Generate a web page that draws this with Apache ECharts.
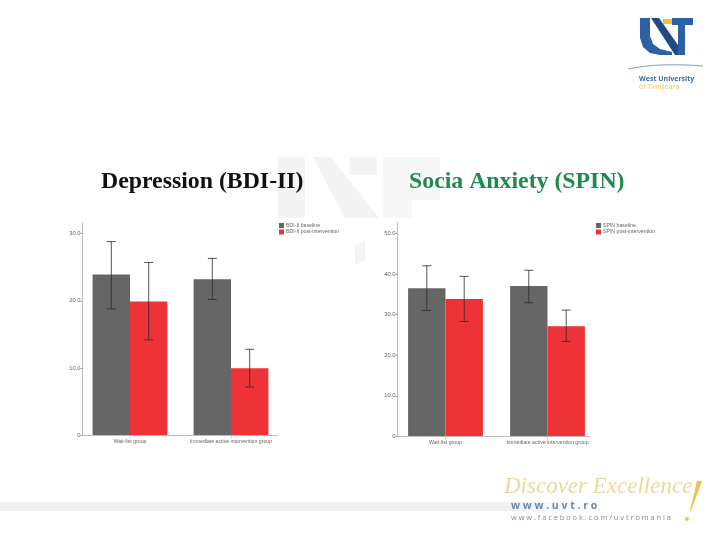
<!DOCTYPE html>
<html>
<head>
<meta charset="UTF-8" />
<title>Depression and Social Anxiety</title>
<style>
html, body { margin: 0; padding: 0; background: #fff; }
#chartBox { width: 720px; height: 540px; }
</style>
</head>
<body>
<div id="chartBox"></div>
<script src="https://cdn.jsdelivr.net/npm/echarts@6/dist/echarts.min.js"></script>
<script>
var categories = ['Wait-list group', 'Immediate active intervention group'];
var categoriesRight = ['Wait-list group', 'Immediate active intervention group'];

// BDI-II
var bdiBaseline = [23.9, 23.2];
var bdiPost = [19.9, 10.0];
var bdiBaselineLow = [18.8, 20.2];
var bdiBaselineHigh = [28.8, 26.3];
var bdiPostLow = [14.2, 7.2];
var bdiPostHigh = [25.7, 12.8];
var bdiTicks = [0, 10, 20, 30];

// SPIN
var spinBaseline = [36.5, 37.0];
var spinPost = [33.8, 27.1];
var spinBaselineLow = [31.0, 32.9];
var spinBaselineHigh = [42.0, 40.9];
var spinPostLow = [28.3, 23.4];
var spinPostHigh = [39.4, 31.1];
var spinTicks = [0, 10, 20, 30, 40, 50];

var GREY = '#666666', RED = '#ee3338', AXIS = '#bdbdbd', TXT = '#666666';
var BAR_W = 37.4;

var myChart = echarts.init(document.getElementById('chartBox'));

// error bars, one set per bar series; side -1 is the left bar of the pair
function errorSeries(gridIdx, low, high, side) {
	return {
		type: 'custom',
		xAxisIndex: gridIdx,
		yAxisIndex: gridIdx,
		silent: true,
		z: 5,
		data: low.map(function(v, i) { return [i, v, high[i]]; }),
		encode: { x: 0, y: [1, 2] },
		renderItem: function(params, api) {
			var lo = api.coord([api.value(0), api.value(1)]);
			var hi = api.coord([api.value(0), api.value(2)]);
			var x = lo[0] + side * BAR_W / 2;
			var st = { stroke: '#2b2b2b', lineWidth: 1, opacity: 0.8 };
			return {
				type: 'group',
				children: [
					{ type: 'line', shape: { x1: x, y1: lo[1], x2: x, y2: hi[1] }, style: st },
					{ type: 'line', shape: { x1: x - 4.5, y1: lo[1], x2: x + 4.5, y2: lo[1] }, style: st },
					{ type: 'line', shape: { x1: x - 4.5, y1: hi[1], x2: x + 4.5, y2: hi[1] }, style: st }
				]
			};
		}
	};
}

function barSeries(gridIdx, name, values, color) {
	return {
		name: name,
		type: 'bar',
		xAxisIndex: gridIdx,
		yAxisIndex: gridIdx,
		data: values,
		barWidth: BAR_W,
		barGap: 0,
		itemStyle: { color: color },
		animation: false
	};
}

function xAxisOf(gridIdx, cats) {
	return {
		type: 'category',
		gridIndex: gridIdx,
		data: cats,
		axisLine: { show: false },
		axisTick: { show: true, alignWithLabel: true, length: 2, lineStyle: { color: AXIS } },
		axisLabel: { color: TXT, fontSize: 5.2, margin: 4, fontFamily: 'Liberation Sans', interval: 0 }
	};
}

function yAxisOf(gridIdx, max, ticks) {
	return {
		type: 'value',
		gridIndex: gridIdx,
		min: 0,
		max: max,
		offset: -3,
		splitLine: { show: false },
		axisLine: { show: true, lineStyle: { color: AXIS } },
		axisTick: { show: true, length: 2, customValues: ticks, lineStyle: { color: '#999' } },
		axisLabel: {
			color: TXT, fontSize: 5.8, margin: 2, fontFamily: 'Liberation Sans',
			customValues: ticks,
			formatter: function(v) { return v === 0 ? '0' : v.toFixed(1); }
		}
	};
}

function legendOf(left, top, names) {
	return {
		left: left, top: top, orient: 'vertical',
		icon: 'rect',
		itemWidth: 5, itemHeight: 5, itemGap: 1.5,
		padding: 0, selectedMode: false,
		data: names,
		textStyle: { color: TXT, fontSize: 5.2, padding: [0, 0, 0, -3], fontFamily: 'Liberation Sans' }
	};
}

var palePoly = '#f5f4f5';
var backdrop = [
	// watermark behind the titles
	{ type: 'rect', shape: { x: 278, y: 157, width: 27, height: 61 }, style: { fill: palePoly } },
	{ type: 'polygon', shape: { points: [[313, 157], [331, 157], [379, 218], [345, 218]] }, style: { fill: palePoly } },
	{ type: 'rect', shape: { x: 349, y: 157, width: 28, height: 18 }, style: { fill: palePoly } },
	{ type: 'polygon', shape: { points: [[383, 157], [440, 157], [440, 200], [412, 200], [412, 218], [383, 218]] }, style: { fill: '#f8f7f8' } },
	{ type: 'polygon', shape: { points: [[355, 245], [365, 240], [365, 260], [355, 265]] }, style: { fill: palePoly } },
	// band at the bottom, fading out behind the web address
	{ type: 'rect', shape: { x: 0, y: 502, width: 600, height: 9 }, style: {
		fill: new echarts.graphic.LinearGradient(0, 0, 1, 0, [
			{ offset: 0, color: '#f0f0f3' }, { offset: 0.85, color: '#f0f0f3' }, { offset: 1, color: '#ffffff' }
		])
	} },
	// logo
	{ type: 'polygon', shape: { points: [[640, 18], [650, 18], [650, 36], [653, 44], [660, 49], [672, 52], [672, 55], [660, 55], [650, 53], [643, 47], [640, 38]] }, style: { fill: '#2c62a5' } },
	{ type: 'polygon', shape: { points: [[651, 18], [659, 18], [685, 55], [675, 55]] }, style: { fill: '#1f4a86' } },
	{ type: 'rect', shape: { x: 663, y: 19, width: 9, height: 5 }, style: { fill: '#f2c230' } },
	{ type: 'rect', shape: { x: 672, y: 18, width: 21, height: 7 }, style: { fill: '#2c62a5' } },
	{ type: 'rect', shape: { x: 678, y: 25, width: 7, height: 30 }, style: { fill: '#2c62a5' } },
	{ type: 'bezierCurve', shape: { x1: 628, y1: 69, cpx1: 650, cpy1: 64, cpx2: 680, cpy2: 64, x2: 703, y2: 66 }, style: { stroke: '#7f9fc4', lineWidth: 1, fill: 'none' } },
	{ type: 'text', x: 639, y: 75, style: { text: 'West University', fill: '#3d6ca8', fontSize: 7, fontWeight: 'bold', fontFamily: 'Open Sans' } },
	{ type: 'text', x: 639, y: 83, style: { text: 'of Timișoara', fill: '#eec65a', fontSize: 7, fontFamily: 'Open Sans' } },
	// slogan
	{ type: 'text', x: 504, y: 475, style: { text: 'Discover Excellence', fill: '#eed79e', fontSize: 23, fontStyle: 'italic', fontFamily: 'Liberation Serif' } },
	{ type: 'polygon', shape: { points: [[697, 481], [702, 481], [691, 511], [690, 511]] }, style: { fill: '#efc34f' } },
	{ type: 'circle', shape: { cx: 687, cy: 519, r: 2 }, style: { fill: '#efc34f' } },
	{ type: 'text', x: 511, y: 501, style: { text: 'w w w . u v t . r o', fill: '#6d87a8', fontSize: 10.5, fontWeight: 'bold', fontFamily: 'Open Sans' } },
	{ type: 'text', x: 511, y: 514, style: { text: 'w w w . f a c e b o o k . c o m / u v t r o m a n i a', fill: '#7c8ca3', fontSize: 7.4, fontFamily: 'Open Sans' } },
	// x axis lines, shorter than the category bands
	{ type: 'line', z: 10, shape: { x1: 82.5, y1: 435.5, x2: 278, y2: 435.5 }, style: { stroke: AXIS, lineWidth: 1 } },
	{ type: 'line', z: 10, shape: { x1: 397.5, y1: 436.5, x2: 590, y2: 436.5 }, style: { stroke: AXIS, lineWidth: 1 } }
];

var option = {
	backgroundColor: '#ffffff',
	animation: false,
	title: [
		{ text: 'Depression (BDI-II)', left: 101, top: 170, padding: 0, textStyle: { color: '#111', fontSize: 23.8, fontWeight: 'bold', fontFamily: 'Liberation Serif' } },
		{ text: 'Socia Anxiety (SPIN)', left: 409, top: 170, padding: 0, textStyle: { color: '#1f8a50', fontSize: 23.8, fontWeight: 'bold', fontFamily: 'Liberation Serif' } }
	],
	legend: [
		legendOf(279, 223, ['BDI-II baseline', 'BDI-II post-intervention']),
		legendOf(596, 223, ['SPIN baseline', 'SPIN post-intervention'])
	],
	grid: [
		{ left: 79.5, top: 222.7, width: 202, height: 212.8 },
		{ left: 394.5, top: 222.7, width: 204, height: 213.8 }
	],
	xAxis: [xAxisOf(0, categories), xAxisOf(1, categoriesRight)],
	yAxis: [yAxisOf(0, 31.6, bdiTicks), yAxisOf(1, 52.6, spinTicks)],
	series: [
		barSeries(0, 'BDI-II baseline', bdiBaseline, GREY),
		barSeries(0, 'BDI-II post-intervention', bdiPost, RED),
		errorSeries(0, bdiBaselineLow, bdiBaselineHigh, -1),
		errorSeries(0, bdiPostLow, bdiPostHigh, 1),
		barSeries(1, 'SPIN baseline', spinBaseline, GREY),
		barSeries(1, 'SPIN post-intervention', spinPost, RED),
		errorSeries(1, spinBaselineLow, spinBaselineHigh, -1),
		errorSeries(1, spinPostLow, spinPostHigh, 1)
	],
	graphic: { elements: backdrop }
};
myChart.setOption(option);
</script>
</body>
</html>
